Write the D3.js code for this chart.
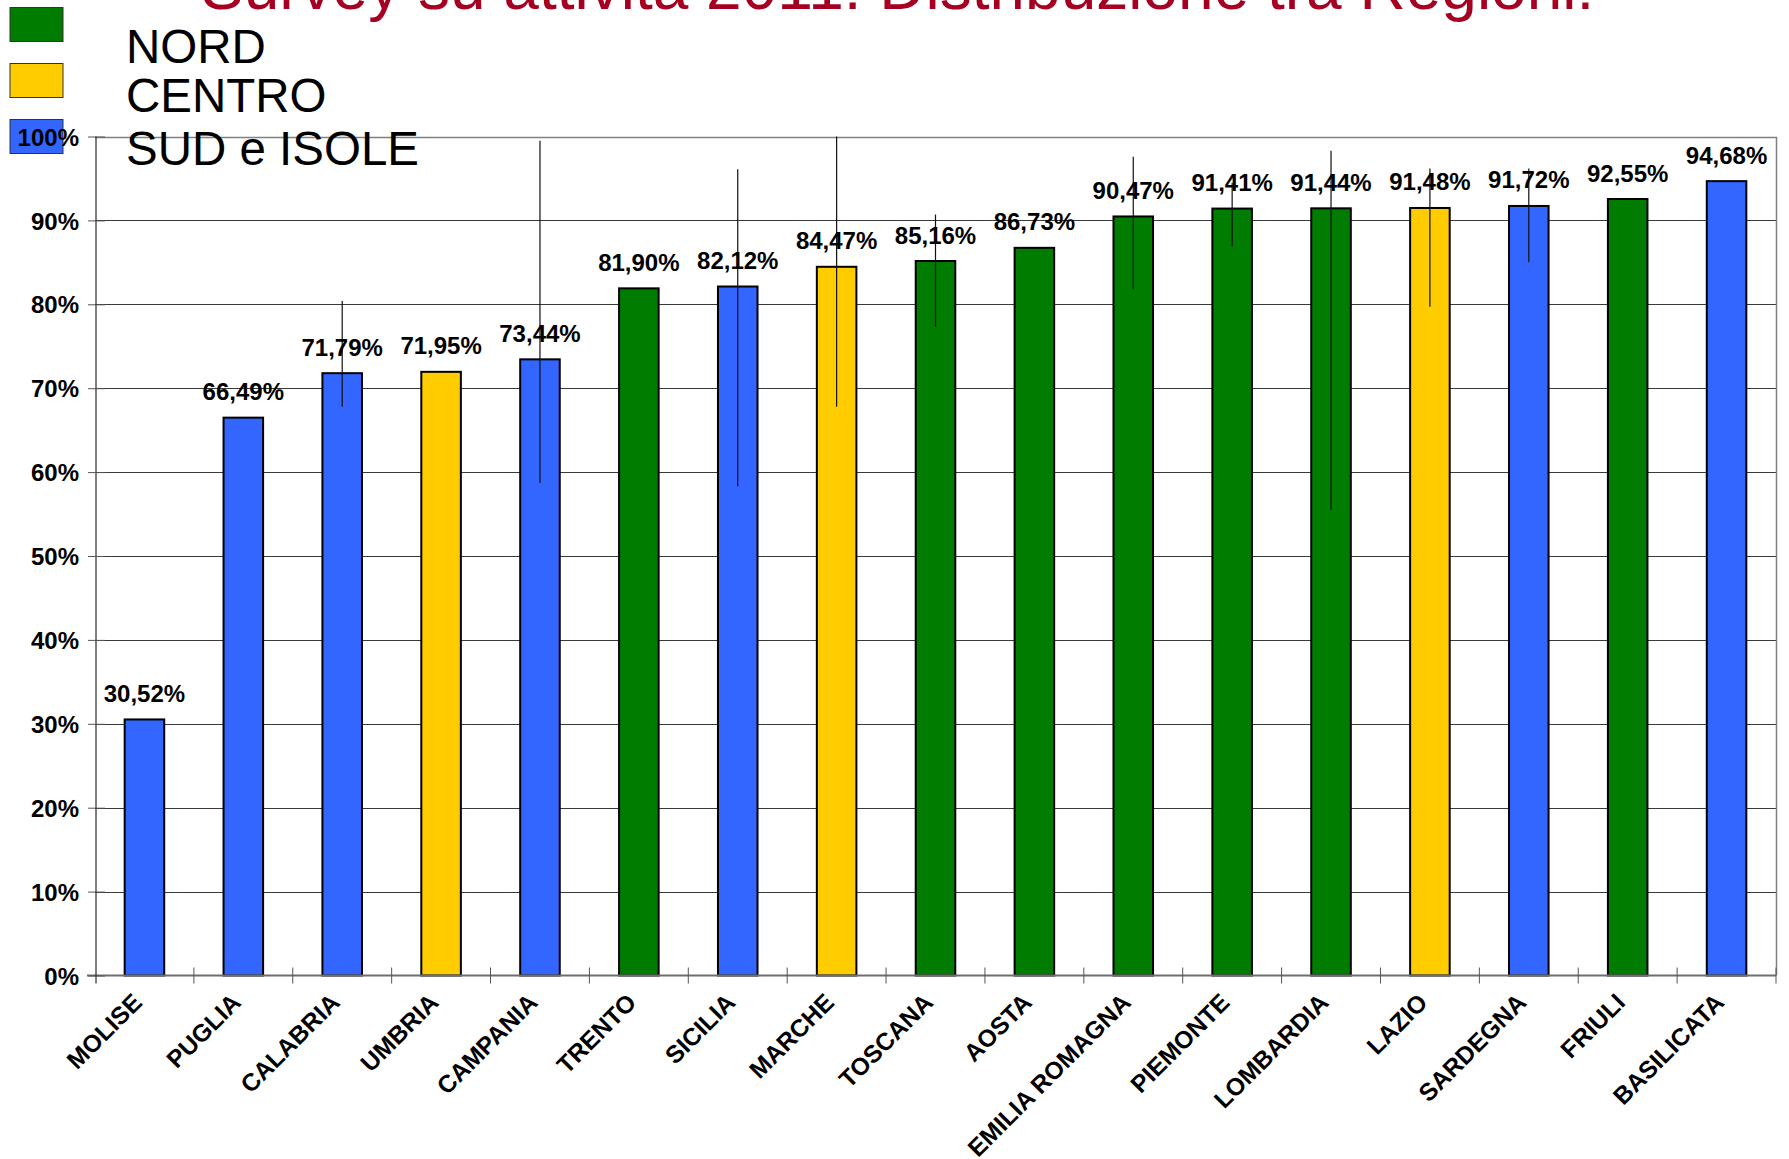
<!DOCTYPE html>
<meta charset="utf-8">
<style>
body { margin: 0; background: #fff; }
text { font-family: "Liberation Sans", Arial, sans-serif; }
.bold { font-weight: bold; font-size: 24px; fill: #000; }
.cat { font-size: 24.5px; }
</style>
<svg width="1789" height="1159"></svg>
<script src="https://cdn.jsdelivr.net/npm/d3@7"></script>
<script>

var regions = ["MOLISE", "PUGLIA", "CALABRIA", "UMBRIA", "CAMPANIA", "TRENTO", "SICILIA", "MARCHE", "TOSCANA",
               "AOSTA", "EMILIA ROMAGNA", "PIEMONTE", "LOMBARDIA", "LAZIO", "SARDEGNA", "FRIULI", "BASILICATA"];
var values = [30.52, 66.49, 71.79, 71.95, 73.44, 81.90, 82.12, 84.47, 85.16, 86.73, 90.47, 91.41, 91.44, 91.48, 91.72, 92.55, 94.68];
var areas = ["SUD", "SUD", "SUD", "CENTRO", "SUD", "NORD", "SUD", "CENTRO", "NORD",
             "NORD", "NORD", "NORD", "NORD", "CENTRO", "SUD", "NORD", "SUD"];
// vertical range lines (no caps)
var errHigh = [null, null, 80.4, null, 99.5, null, 96.1, 100, 90.7, null, 97.6, 94.5, 98.3, 96.2, 96.2, null, null];
var errLow  = [null, null, 67.8, null, 58.7, null, 58.3, 67.8, 77.3, null, 81.8, 86.9, 55.5, 79.7, 85.0, null, null];

var legendKeys = ["NORD", "CENTRO", "SUD"];
var legendLabels = ["NORD", "CENTRO", "SUD e ISOLE"];
var yTicks = [0, 10, 20, 30, 40, 50, 60, 70, 80, 90, 100];
var title = "Survey su attività 2011: Distribuzione tra Regioni:";

var svg = d3.select("svg"),
    plotL = 95, plotR = 1776, plotT = 136.5, plotB = 975.5;

var color = d3.scaleOrdinal().domain(legendKeys).range(["#007C00", "#FFCC00", "#3366FF"]);

var x = d3.scaleBand().domain(regions).range([plotL, plotR]).paddingInner(0.6).paddingOuter(0.3),
    y = d3.scaleLinear().domain([0, 100]).range([plotB, plotT]);

var it = d3.formatLocale({decimal: ",", thousands: ".", grouping: [3], currency: ["", "€"]});
var fmt = it.format(".2f");

var data = regions.map(function(r, i) {
  return {region: r, value: values[i], area: areas[i], hi: errHigh[i], lo: errLow[i]};
});

// title, cut by the top edge like in the slide
svg.append("text")
    .attr("x", 201).attr("y", 9)
    .style("font-size", "64px")
    .style("fill", "#A50021")
    .text(title);

// legend boxes
svg.selectAll(".lbox")
  .data(legendKeys)
  .enter().append("rect")
    .attr("class", "lbox")
    .attr("x", 10).attr("width", 53)
    .attr("y", function(d, i) { return [7.5, 63.5, 119.5][i]; })
    .attr("height", 34)
    .style("fill", function(d) { return color(d); })
    .style("stroke", "#333").style("stroke-width", 1);

// gridlines
svg.append("g")
  .selectAll("line")
  .data(yTicks.slice(1, -1))
  .enter().append("line")
    .attr("x1", plotL).attr("x2", plotR)
    .attr("y1", function(d) { return Math.round(y(d)) + 0.5; })
    .attr("y2", function(d) { return Math.round(y(d)) + 0.5; })
    .style("stroke", "#3a3a3a");

// plot border (top + right) in grey
svg.append("path")
    .attr("d", "M" + plotL + "," + (Math.round(plotT) + 0.5) + "H" + (plotR + 0.5) + "V" + plotB)
    .style("fill", "none").style("stroke", "#808080").style("stroke-width", 1.5);

// bars
svg.selectAll(".bar")
  .data(data)
  .enter().append("rect")
    .attr("class", "bar")
    .attr("x", function(d) { return x(d.region); })
    .attr("width", x.bandwidth())
    .attr("y", function(d) { return y(d.value); })
    .attr("height", function(d) { return y(0) - y(d.value); })
    .style("fill", function(d) { return color(d.area); })
    .style("stroke", "#000").style("stroke-width", 2);

// baseline + category ticks
svg.append("line")
    .attr("x1", plotL - 8).attr("x2", plotR)
    .attr("y1", plotB).attr("y2", plotB)
    .style("stroke", "#6e6e6e").style("stroke-width", 2);

svg.append("g")
  .selectAll("line")
  .data(regions)
  .enter().append("line")
    .attr("x1", function(d) { return x(d) + x.bandwidth() / 2 + x.step() / 2; })
    .attr("x2", function(d) { return x(d) + x.bandwidth() / 2 + x.step() / 2; })
    .attr("y1", plotB - 8).attr("y2", plotB + 8)
    .style("stroke", "#555");

// y axis
var yAxis = svg.append("g")
    .attr("transform", "translate(" + (plotL + 1) + ",0)")
    .call(d3.axisLeft(y).tickValues(yTicks).tickSize(8).tickPadding(9)
      .tickFormat(function(d) { return d + "%"; }));
yAxis.attr("font-family", null).attr("font-size", null);
yAxis.select(".domain").attr("d", "M0," + plotT + "V" + (plotB + 8)).style("stroke", "#000");
yAxis.selectAll(".tick line").attr("x1", 9).attr("x2", -8).style("stroke", "#555");
yAxis.selectAll(".tick text").attr("class", "bold").attr("dy", "0.36em").attr("fill", "#000");

// range lines
svg.selectAll(".err")
  .data(data.filter(function(d) { return d.hi != null; }))
  .enter().append("line")
    .attr("class", "err")
    .attr("x1", function(d) { return x(d.region) + x.bandwidth() / 2; })
    .attr("x2", function(d) { return x(d.region) + x.bandwidth() / 2; })
    .attr("y1", function(d) { return y(d.hi); })
    .attr("y2", function(d) { return y(d.lo); })
    .style("stroke", "#111").style("stroke-width", 1.2);

// value labels
svg.selectAll(".val")
  .data(data)
  .enter().append("text")
    .attr("class", "bold")
    .attr("x", function(d) { return x(d.region) + x.bandwidth() / 2; })
    .attr("y", function(d) { return y(d.value) - 17.5; })
    .attr("text-anchor", "middle")
    .text(function(d) { return fmt(d.value) + "%"; });

// category labels
svg.selectAll(".cat")
  .data(regions)
  .enter().append("text")
    .attr("class", "bold cat")
    .attr("text-anchor", "end")
    .attr("transform", function(d) { return "translate(" + (x(d) + x.bandwidth() / 2 - 1) + "," + 1004 + ") rotate(-45)"; })
    .text(function(d) { return d; });

// legend labels
svg.selectAll(".ltext")
  .data(legendLabels)
  .enter().append("text")
    .attr("x", 126)
    .attr("y", function(d, i) { return [63, 112, 165][i]; })
    .style("font-size", "47.5px")
    .text(function(d) { return d; });

</script>
